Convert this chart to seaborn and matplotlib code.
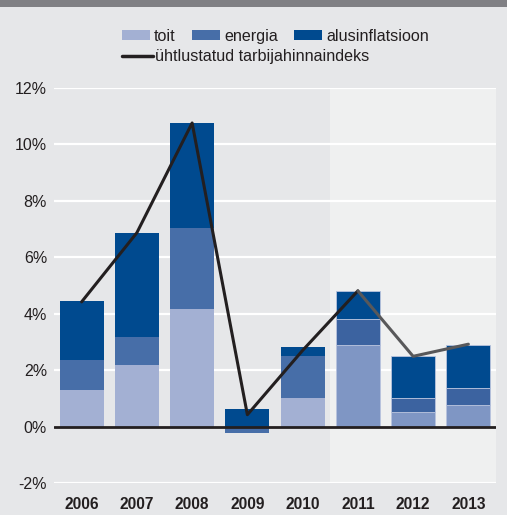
import numpy as np
import pandas as pd
import matplotlib
matplotlib.use("Agg")
import matplotlib.pyplot as plt
from matplotlib.patches import Patch, Rectangle
from matplotlib.lines import Line2D
import seaborn as sns

years = ["2006", "2007", "2008", "2009", "2010", "2011", "2012", "2013"]
toit = [1.28, 2.17, 4.16, 0.0, 1.0, 2.88, 0.5, 0.75]
energia = [1.07, 1.0, 2.89, -0.24, 1.49, 0.92, 0.5, 0.6]
alusinflatsioon = [2.1, 3.7, 3.7, 0.64, 0.32, 1.0, 1.49, 1.53]
hicp = [4.42, 6.87, 10.76, 0.42, 2.7, 4.81, 2.49, 2.92]
forecast_start = 5  # index of first forecast year (2011)

series_names = ["toit", "energia", "alusinflatsioon"]
hist_colors = ["#a3b0d3", "#476ea8", "#004a8f"]
fc_colors = ["#7f96c4", "#3c63a0", "#004a8f"]

sns.set_theme(style="white")
plt.rcParams["font.family"] = ["Liberation Sans", "DejaVu Sans"]

fig = plt.figure(figsize=(5.07, 5.15), dpi=100)
fig.patch.set_facecolor("#e6e7e9")
fig.patches.append(Rectangle((0, 1 - 7 / 515), 1, 7 / 515, transform=fig.transFigure,
                             facecolor="#808084", edgecolor="none", zorder=0))

ax = fig.add_axes([54 / 507, 1 - 483 / 515, (496 - 54) / 507, (483 - 88) / 515])
ax.set_facecolor("#e6e7e9")

# forecast background
ax.axvspan(forecast_start - 0.5, len(years) - 0.5, color="#eff0f0", zorder=0.5, lw=0)

# gridlines
for v in [-2, 2, 4, 6, 8, 10, 12]:
    ax.axhline(v, color="white", lw=1.6, zorder=0.8)

# stacked bars (positives stacked upward, negatives downward)
data = [np.array(toit), np.array(energia), np.array(alusinflatsioon)]
pos_base = np.zeros(len(years))
neg_base = np.zeros(len(years))
for vals, name, hc, fcol in zip(data, series_names, hist_colors, fc_colors):
    bottom = np.where(vals >= 0, pos_base, neg_base)
    n_before = len(ax.patches)
    sns.barplot(x=years, y=vals, bottom=bottom, color=hc, width=0.8,
                errorbar=None, saturation=1, ax=ax, zorder=2, linewidth=0)
    new = ax.patches[n_before:]
    for i, p in enumerate(new):
        if i >= forecast_start:
            p.set_facecolor(fcol)
            p.set_edgecolor("#b9c4de")
            p.set_linewidth(0.6)
    pos_base = pos_base + np.where(vals >= 0, vals, 0)
    neg_base = neg_base + np.where(vals < 0, vals, 0)

ax.axhline(0, color="#231f20", lw=2, zorder=3)

# HICP line
xpos = np.arange(len(years))
sns.lineplot(x=xpos[:forecast_start + 1], y=hicp[:forecast_start + 1], color="#231f20",
             lw=2.2, ax=ax, zorder=4)
sns.lineplot(x=xpos[forecast_start:], y=hicp[forecast_start:], color="#58585a",
             lw=2.2, ax=ax, zorder=4)

ax.set_xlim(-0.5, len(years) - 0.5)
ax.set_ylim(-2, 12)
ax.set_yticks([-2, 0, 2, 4, 6, 8, 10, 12])
ax.set_yticklabels([f"{v}%" for v in [-2, 0, 2, 4, 6, 8, 10, 12]])
ax.set_xticks(xpos)
ax.set_xticklabels(years, fontweight="bold")
ax.tick_params(axis="y", length=0, pad=5, labelsize=11.5, labelcolor="#231f20")
ax.tick_params(axis="x", length=0, pad=10, labelsize=11.2, labelcolor="#231f20")
for s in ax.spines.values():
    s.set_visible(False)
ax.set_xlabel("")
ax.set_ylabel("")

# legends
fs = 11.6
handles1 = [Patch(facecolor=c, edgecolor="none", label=n) for c, n in zip(hist_colors, series_names)]
leg1 = fig.legend(handles=handles1, loc="center left", bbox_to_anchor=(122 / 507, 1 - 36 / 515),
                  ncol=3, frameon=False, fontsize=fs, handlelength=1.75, handleheight=0.6,
                  handletextpad=0.25, columnspacing=1.0, borderpad=0, borderaxespad=0)
for t in leg1.get_texts():
    t.set_color("#231f20")
handles2 = [Line2D([0], [0], color="#231f20", lw=2.5, label="ühtlustatud tarbijahinnaindeks")]
leg2 = fig.legend(handles=handles2, loc="center left", bbox_to_anchor=(122 / 507, 1 - 57 / 515),
                  frameon=False, fontsize=fs, handlelength=1.9, handletextpad=0.12,
                  borderpad=0, borderaxespad=0)
for t in leg2.get_texts():
    t.set_color("#231f20")

fig.savefig("out.png", dpi=100, facecolor=fig.get_facecolor())
